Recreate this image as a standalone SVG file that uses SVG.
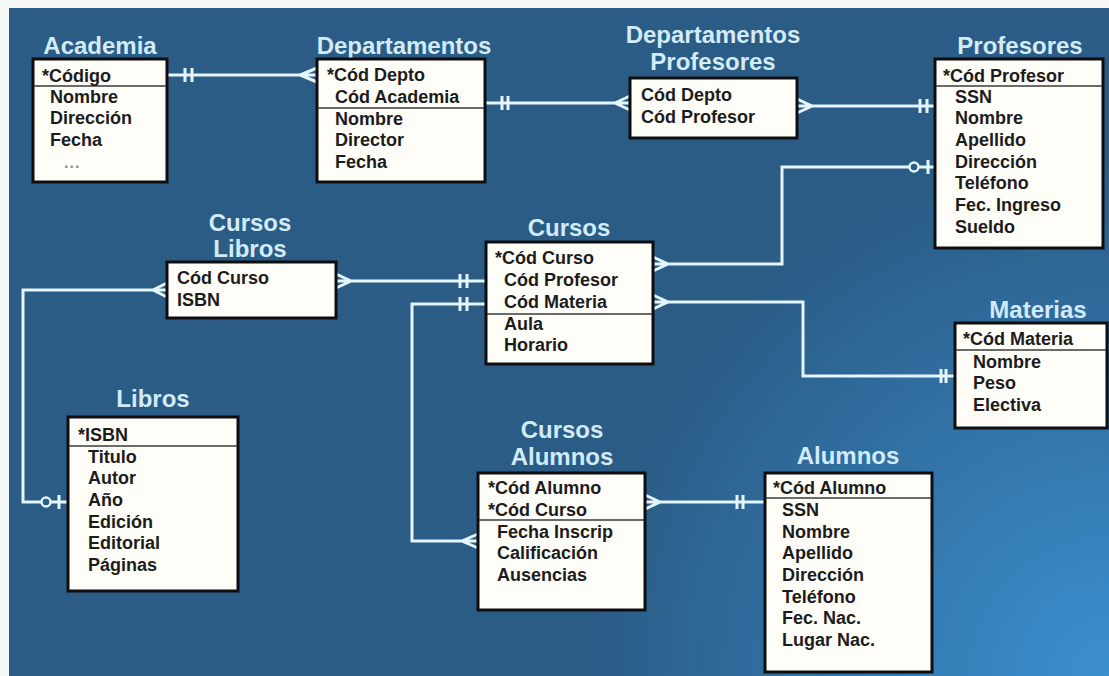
<svg xmlns="http://www.w3.org/2000/svg" width="1109" height="676" viewBox="0 0 1109 676">
<defs>
<radialGradient id="bg" cx="1109" cy="676" r="520" gradientUnits="userSpaceOnUse">
<stop offset="0" stop-color="#3b8fcf"/>
<stop offset="1" stop-color="#2a5c86"/>
</radialGradient>
<style>
.box{fill:#fffdf8;stroke:#0e0e10;stroke-width:3}
.sep{stroke:#3a3a3a;stroke-width:1.6}
.t{font-family:"Liberation Sans",Arial,sans-serif;font-weight:bold;font-size:24px;fill:#d2ebf7;text-anchor:middle}
.r{font-family:"Liberation Sans",Arial,sans-serif;font-weight:bold;font-size:18px;fill:#1c1c1c}
.c{fill:none;stroke:#e4f5fd;stroke-width:3;stroke-linejoin:miter}
.ring{fill:#2a5c86;stroke:#e4f5fd;stroke-width:2.5}
</style>
</defs>
<rect width="1109" height="676" fill="#f6f8f8"/>
<rect x="9" y="8" width="1100" height="668" fill="url(#bg)"/>

<g id="connectors">
<!-- Academia - Departamentos -->
<path class="c" d="M167,75 H317 M185,68 V82 M192,68 V82 M317,68 L300,75 L317,82"/>
<!-- Departamentos - DeptProf -->
<path class="c" d="M485,103 H630 M502,96 V110 M508,96 V110 M630,96 L615,103 L630,110"/>
<!-- DeptProf - Profesores -->
<path class="c" d="M797,106 H935 M797,99 L812,106 L797,113 M920,99 V113 M927,99 V113"/>
<!-- Cursos - Profesores -->
<path class="c" d="M653,264 H782 V167 H935 M653,257 L668,264 L653,271 M928,160 V174"/>
<circle class="ring" cx="914" cy="167" r="4.5"/>
<!-- CursosLibros - Cursos -->
<path class="c" d="M336,281 H486 M336,274 L351,281 L336,288 M460,274 V288 M467,274 V288"/>
<!-- CursosLibros - Libros -->
<path class="c" d="M167,290 H23 V502 H68 M167,283 L153,290 L167,297 M59,495 V509"/>
<circle class="ring" cx="46" cy="502" r="4.5"/>
<!-- Cursos - Materias -->
<path class="c" d="M653,302 H803 V376 H955 M653,295 L668,302 L653,309 M941,369 V383 M946,369 V383"/>
<!-- Cursos - CursosAlumnos -->
<path class="c" d="M486,304 H412 V541 H478 M460,297 V311 M467,297 V311 M478,534 L462,541 L478,548"/>
<!-- CursosAlumnos - Alumnos -->
<path class="c" d="M645,502 H765 M645,495 L660,502 L645,509 M737,495 V509 M743,495 V509"/>
</g>

<g id="academia">
<text class="t" x="100" y="54">Academia</text>
<rect class="box" x="33" y="59" width="134" height="123"/>
<line class="sep" x1="34" y1="86" x2="166" y2="86"/>
<text class="r" x="42" y="82">*Código</text>
<text class="r" x="50" y="103">Nombre</text>
<text class="r" x="50" y="124">Dirección</text>
<text class="r" x="50" y="146">Fecha</text>
<text x="64" y="168" font-family="Liberation Sans,Arial,sans-serif" font-size="16" font-weight="bold" letter-spacing="1" fill="#8f8f8f">...</text>
</g>

<g id="departamentos">
<text class="t" x="404" y="54">Departamentos</text>
<rect class="box" x="317" y="59" width="168" height="123"/>
<line class="sep" x1="318" y1="108" x2="484" y2="108"/>
<text class="r" x="327" y="81">*Cód Depto</text>
<text class="r" x="335" y="103">Cód Academia</text>
<text class="r" x="335" y="125">Nombre</text>
<text class="r" x="335" y="146">Director</text>
<text class="r" x="335" y="168">Fecha</text>
</g>

<g id="departamentos-profesores">
<text class="t" x="713" y="43">Departamentos</text>
<text class="t" x="713" y="70">Profesores</text>
<rect class="box" x="630" y="78" width="167" height="60"/>
<text class="r" x="641" y="101">Cód Depto</text>
<text class="r" x="641" y="123">Cód Profesor</text>
</g>

<g id="profesores">
<text class="t" x="1020" y="54">Profesores</text>
<rect class="box" x="935" y="59" width="168" height="189"/>
<line class="sep" x1="936" y1="86" x2="1102" y2="86"/>
<text class="r" x="943" y="82">*Cód Profesor</text>
<text class="r" x="955" y="103">SSN</text>
<text class="r" x="955" y="124">Nombre</text>
<text class="r" x="955" y="146">Apellido</text>
<text class="r" x="955" y="168">Dirección</text>
<text class="r" x="955" y="189">Teléfono</text>
<text class="r" x="955" y="211">Fec. Ingreso</text>
<text class="r" x="955" y="233">Sueldo</text>
</g>

<g id="cursos-libros">
<text class="t" x="250" y="231">Cursos</text>
<text class="t" x="250" y="257">Libros</text>
<rect class="box" x="167" y="262" width="169" height="56"/>
<text class="r" x="177" y="284">Cód Curso</text>
<text class="r" x="177" y="306">ISBN</text>
</g>

<g id="cursos">
<text class="t" x="569" y="236">Cursos</text>
<rect class="box" x="486" y="242" width="167" height="122"/>
<line class="sep" x1="487" y1="314" x2="652" y2="314"/>
<text class="r" x="495" y="264">*Cód Curso</text>
<text class="r" x="504" y="286">Cód Profesor</text>
<text class="r" x="504" y="308">Cód Materia</text>
<text class="r" x="504" y="330">Aula</text>
<text class="r" x="504" y="351">Horario</text>
</g>

<g id="materias">
<text class="t" x="1038" y="318">Materias</text>
<rect class="box" x="955" y="323" width="152" height="105"/>
<line class="sep" x1="956" y1="350" x2="1106" y2="350"/>
<text class="r" x="963" y="345">*Cód Materia</text>
<text class="r" x="973" y="368">Nombre</text>
<text class="r" x="973" y="389">Peso</text>
<text class="r" x="973" y="411">Electiva</text>
</g>

<g id="libros">
<text class="t" x="153" y="407">Libros</text>
<rect class="box" x="68" y="417" width="170" height="174"/>
<line class="sep" x1="69" y1="446" x2="237" y2="446"/>
<text class="r" x="78" y="441">*ISBN</text>
<text class="r" x="88" y="463">Titulo</text>
<text class="r" x="88" y="484">Autor</text>
<text class="r" x="88" y="506">Año</text>
<text class="r" x="88" y="528">Edición</text>
<text class="r" x="88" y="549">Editorial</text>
<text class="r" x="88" y="571">Páginas</text>
</g>

<g id="cursos-alumnos">
<text class="t" x="562" y="438">Cursos</text>
<text class="t" x="562" y="465">Alumnos</text>
<rect class="box" x="478" y="473" width="167" height="137"/>
<line class="sep" x1="479" y1="520" x2="644" y2="520"/>
<text class="r" x="488" y="494">*Cód Alumno</text>
<text class="r" x="488" y="516">*Cód Curso</text>
<text class="r" x="497" y="538">Fecha Inscrip</text>
<text class="r" x="497" y="559">Calificación</text>
<text class="r" x="497" y="581">Ausencias</text>
</g>

<g id="alumnos">
<text class="t" x="848" y="464">Alumnos</text>
<rect class="box" x="765" y="473" width="167" height="199"/>
<line class="sep" x1="766" y1="498" x2="931" y2="498"/>
<text class="r" x="773" y="494">*Cód Alumno</text>
<text class="r" x="782" y="516">SSN</text>
<text class="r" x="782" y="538">Nombre</text>
<text class="r" x="782" y="559">Apellido</text>
<text class="r" x="782" y="581">Dirección</text>
<text class="r" x="782" y="603">Teléfono</text>
<text class="r" x="782" y="624">Fec. Nac.</text>
<text class="r" x="782" y="646">Lugar Nac.</text>
</g>
</svg>
